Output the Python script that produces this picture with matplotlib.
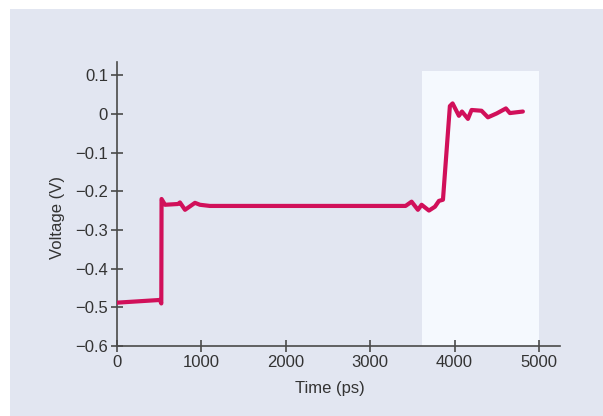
import matplotlib
matplotlib.use("Agg")
import matplotlib.pyplot as plt
from matplotlib.patches import Rectangle
from matplotlib import font_manager

# ---- data ----
time_ps = [0, 509, 525, 528, 569, 723, 746, 806, 924, 983, 1100, 2000, 3000, 3420,
           3491, 3566, 3610, 3697, 3768, 3815, 3863, 3945, 3977, 4052, 4088, 4159,
           4202, 4320, 4396, 4499, 4609, 4656, 4810]
voltage_v = [-0.488, -0.481, -0.490, -0.22, -0.235, -0.233, -0.229, -0.248, -0.23, -0.235,
             -0.238, -0.238, -0.238, -0.238,
             -0.227, -0.248, -0.235, -0.25, -0.24, -0.225, -0.222, 0.02, 0.027, -0.005,
             0.006, -0.013, 0.01, 0.008, -0.009, 0.001, 0.014, 0.002, 0.006]

x_ticks = [0, 1000, 2000, 3000, 4000, 5000]
y_ticks = [0.1, 0, -0.1, -0.2, -0.3, -0.4, -0.5, -0.6]
y_tick_labels = ["0.1", "0", "\u22120.1", "\u22120.2", "\u22120.3", "\u22120.4", "\u22120.5", "\u22120.6"]
highlight_x = (3620, 5000)
highlight_y = (-0.6, 0.11)

# ---- fonts ----
names = {f.name for f in font_manager.fontManager.ttflist}
fam = [n for n in ["Liberation Sans Narrow", "Liberation Sans", "DejaVu Sans"] if n in names]
plt.rcParams['font.family'] = fam

W, H = 603, 416
fig = plt.figure(figsize=(W / 100, H / 100), dpi=100)
fig.patch.set_facecolor("white")
fig.patches.append(Rectangle((10 / W, 0), 1, 1 - 9 / H, transform=fig.transFigure,
                             facecolor="#e2e6f1", edgecolor="none", zorder=-10))

ax = fig.add_axes([117 / W, 1 - 346 / H, (560 - 117) / W, (346 - 62) / H])
ax.set_facecolor("none")
ax.set_xlim(0, 5250)
ax.set_ylim(-0.6, 0.134)

ax.add_patch(Rectangle((highlight_x[0], highlight_y[0]), highlight_x[1] - highlight_x[0],
                       highlight_y[1] - highlight_y[0], facecolor="#f5f9fe",
                       edgecolor="none", zorder=0))

ax.plot(time_ps, voltage_v, color="#d1105a", lw=3.0, solid_joinstyle="round",
        solid_capstyle="round", zorder=3)

for s in ["top", "right"]:
    ax.spines[s].set_visible(False)
for s in ["left", "bottom"]:
    ax.spines[s].set_color("#4a4a4a")
    ax.spines[s].set_linewidth(1.2)

ax.set_xticks(x_ticks)
ax.set_yticks(y_ticks)
ax.set_yticklabels(y_tick_labels)
ax.tick_params(direction="inout", length=9, width=1.2, color="#4a4a4a",
               labelsize=12, labelcolor="#333333", pad=2)

ax.set_xlabel("Time (ps)", fontsize=12, color="#333333", labelpad=3)
ax.xaxis.set_label_coords(0.48, -0.125)
ax.set_ylabel("Voltage (V)", fontsize=12, color="#333333")
ax.yaxis.set_label_coords(-0.117, 0.454)

fig.savefig("out.png", dpi=100)
